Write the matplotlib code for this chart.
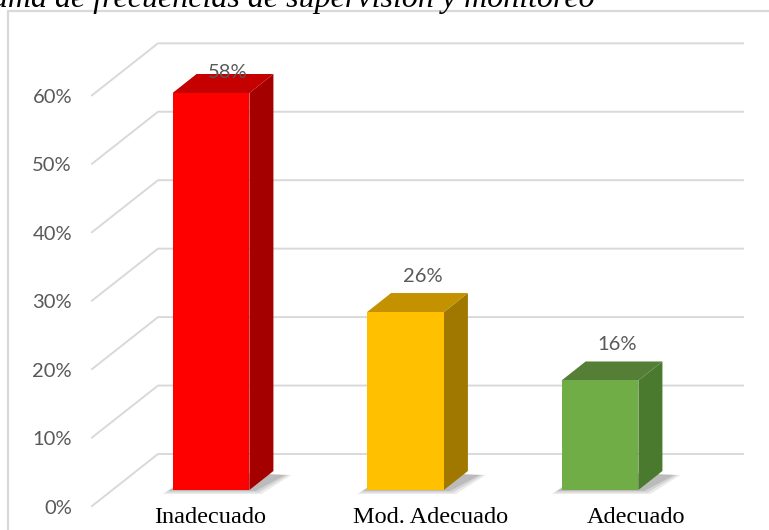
import numpy as np
import matplotlib
matplotlib.use("Agg")
import matplotlib.pyplot as plt
import matplotlib.transforms as mtransforms
from matplotlib.patches import Polygon
from matplotlib.lines import Line2D

# Data
categorias = ["Inadecuado", "Mod. Adecuado", "Adecuado"]
porcentajes = [58, 26, 16]
ticks_y = [0, 10, 20, 30, 40, 50, 60]
titulo = "Histograma de frecuencias de supervisión y monitoreo"

# Colours for each bar: front, side, top
col_frente = ["#FF0000", "#FFC000", "#70AD47"]
col_lado = ["#A50000", "#A07800", "#4A7A2D"]
col_tapa = ["#C40000", "#C49200", "#557F36"]

W, H = 769, 530
fig = plt.figure(figsize=(W / 100, H / 100), dpi=100)
fig.patch.set_facecolor("white")

# axes for the front plane of the bars (pixel layout)
x0, x1 = 113.75, 697.25
y0, y1 = 40, 40 + 60 * 6.845
ax = fig.add_axes([x0 / W, y0 / H, (x1 - x0) / W, (y1 - y0) / H])
ax.set_xlim(-0.5, 2.5)
ax.set_ylim(0, 60)
ax.axis("off")

gris = "#D9D9D9"
txt_gris = "#595959"
ident = mtransforms.IdentityTransform()

# outer chart border
fig.add_artist(Line2D([8, 8, W], [0, H - 11, H - 11], transform=ident,
                      color=gris, lw=1.6))

# gridlines: front diagonals + back wall horizontals
atras_dy = 36
frente_dy = -16
for v in ticks_y:
    yb = ax.transData.transform((0, v))[1]
    y_back = yb + atras_dy
    y_front = yb + frente_dy
    fig.add_artist(Line2D([92, 158, 743], [y_front, y_back, y_back],
                          transform=ident, color=gris, lw=1.4, zorder=1))
    fig.text(72 / W, (y_front - 2) / H, f"{v}%", ha="right", va="center",
             fontsize=14.5, color=txt_gris, family="Lato")

# bars drawn as 3D boxes
ancho = 0.395
dx, dy = 24, 19
for i, v in enumerate(porcentajes):
    xl, xr = i - ancho / 2, i + ancho / 2
    p = ax.transData.transform([(xl, 0), (xr, 0), (xr, v), (xl, v)])
    bl, br, tr, tl = p
    # soft floor shadow, built from a few stacked translucent layers
    for k, a in zip([6, 3, 0], [0.12, 0.15, 0.2]):
        sombra = [(bl[0] - 4 - k, bl[1] - 1 - k / 2), (br[0] + 6 + k, br[1] - 1 - k / 2),
                  (br[0] + dx + 12 + k, br[1] + dy - 4), (bl[0] + dx, bl[1] + dy)]
        fig.add_artist(Polygon(sombra, closed=True, transform=ident,
                               facecolor="#595959", alpha=a, lw=0, zorder=2))
    lado = [br, (br[0] + dx, br[1] + dy), (tr[0] + dx, tr[1] + dy), tr]
    tapa = [tl, tr, (tr[0] + dx, tr[1] + dy), (tl[0] + dx, tl[1] + dy)]
    fig.add_artist(Polygon(lado, closed=True, transform=ident,
                           facecolor=col_lado[i], lw=0, zorder=3))
    fig.add_artist(Polygon(tapa, closed=True, transform=ident,
                           facecolor=col_tapa[i], lw=0, zorder=3))
    fig.add_artist(Polygon([bl, br, tr, tl], closed=True, transform=ident,
                           facecolor=col_frente[i], lw=0, zorder=4))

    # value label above the bar, kept inside the plot area
    ly = min(tr[1] + dy + 17, H - 72)
    fig.text((0.5 * (bl[0] + br[0]) + 17) / W, ly / H, f"{v}%",
             ha="center", va="center", fontsize=14.5, color=txt_gris,
             family="Lato", zorder=5)

# category names under the floor
desplaz = [-1, 25, 36]
for i, nombre in enumerate(categorias):
    cx = ax.transData.transform((i, 0))[0] + desplaz[i]
    fig.text(cx / W, 7 / H, nombre, ha="center", va="baseline",
             fontsize=17.5, color="black", family="Liberation Serif")

# caption line at the top (cut by the image edge)
fig.text(595 / W, (H - 7) / H, titulo, ha="right", va="baseline",
         fontsize=23, style="italic", color="black",
         family="Liberation Serif")

fig.savefig("out.png", dpi=100)
